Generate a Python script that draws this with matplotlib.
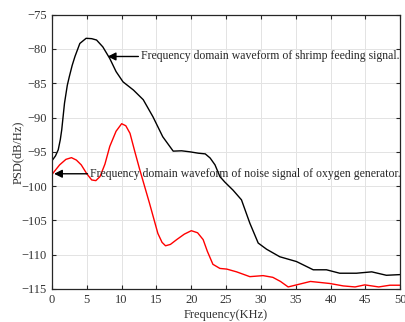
import matplotlib
matplotlib.use("Agg")
import matplotlib.pyplot as plt

# values
freq_shrimp = [0.0, 0.5, 0.9, 1.2, 1.4, 1.8, 2.2, 2.5, 2.9, 3.3, 4.0, 4.9, 5.7, 6.4,
               7.3, 8.3, 9.2, 10.2, 11.7, 13.1, 14.5, 15.9, 17.4, 18.6, 19.8, 21.0,
               22.0, 22.7, 23.4, 24.1, 24.8, 26.0, 27.2, 28.4, 29.6, 30.8, 32.7, 35.1,
               37.5, 39.4, 41.3, 43.7, 45.9, 48.0, 50.0]
psd_shrimp = [-96.3, -95.6, -94.7, -93.2, -91.8, -87.9, -85.3, -84.0, -82.4, -81.1,
              -79.2, -78.45, -78.5, -78.7, -79.7, -81.4, -83.3, -84.8, -86.0, -87.4,
              -89.9, -92.8, -94.9, -94.85, -95.0, -95.2, -95.3, -95.9, -96.9, -98.6,
              -99.4, -100.6, -102.0, -105.4, -108.3, -109.2, -110.3, -111.0, -112.2,
              -112.2, -112.7, -112.7, -112.5, -113.0, -112.9]

freq_noise = [0.0, 1.1, 2.0, 2.8, 3.5, 4.2, 5.0, 5.7, 6.3, 6.9, 7.6, 8.3, 9.2, 10.0,
              10.6, 11.2, 11.9, 12.6, 14.0, 15.2, 15.8, 16.3, 17.0, 17.9, 19.0, 20.0,
              20.9, 21.7, 22.3, 23.1, 24.1, 25.1, 26.5, 28.4, 30.3, 31.7, 32.8, 33.9,
              35.1, 37.1, 39.9, 41.8, 43.5, 44.9, 46.9, 48.5, 50.0]
psd_noise = [-98.3, -96.9, -96.1, -95.85, -96.2, -96.9, -98.2, -99.1, -99.2, -98.6,
             -96.8, -94.2, -92.0, -90.9, -91.2, -92.3, -95.0, -97.6, -102.5, -106.9,
             -108.2, -108.7, -108.5, -107.8, -107.0, -106.5, -106.8, -107.8, -109.5,
             -111.4, -112.0, -112.1, -112.5, -113.2, -113.05, -113.3, -113.9, -114.7,
             -114.4, -113.9, -114.2, -114.55, -114.7, -114.4, -114.7, -114.45, -114.45]

label_shrimp = "Frequency domain waveform of shrimp feeding signal."
label_noise = "Frequency domain waveform of noise signal of oxygen generator."

plt.rcParams['font.family'] = ['Liberation Serif', 'DejaVu Serif']
plt.rcParams['font.size'] = 9

fig = plt.figure(figsize=(4.06, 3.22), dpi=100)
ax = fig.add_axes([0.128, 0.1025, 0.858, 0.852])

ax.plot(freq_shrimp, psd_shrimp, color="black", linewidth=1.0)
ax.plot(freq_noise, psd_noise, color="red", linewidth=1.0)

ax.set_xlim(0, 50)
ax.set_ylim(-115, -75)
ax.set_xticks(range(0, 51, 5))
ax.set_yticks(range(-115, -74, 5))
ax.grid(True, color="#e3e3e3", linewidth=0.7)
ax.tick_params(direction="in", top=True, right=True, length=3, colors="#262626",
               labelcolor="#333333")
for s in ax.spines.values():
    s.set_linewidth(0.9)
    s.set_color("#262626")

ax.set_xlabel("Frequency(KHz)", color="#333333", labelpad=2)
ax.set_ylabel("PSD(dB/Hz)", color="#333333", labelpad=-2)

arrow = dict(arrowstyle="-|>", color="black", lw=1.0, mutation_scale=12, shrinkA=0, shrinkB=0)
ax.annotate(label_shrimp, xy=(8.0, -81.1), xytext=(12.8, -81.1), va="center",
            fontsize=8.5, arrowprops=arrow, color="#262626")
ax.annotate(label_noise, xy=(0.3, -98.2), xytext=(5.5, -98.2), va="center",
            fontsize=8.5, arrowprops=arrow, color="#262626")

plt.savefig("out.png", dpi=100)
